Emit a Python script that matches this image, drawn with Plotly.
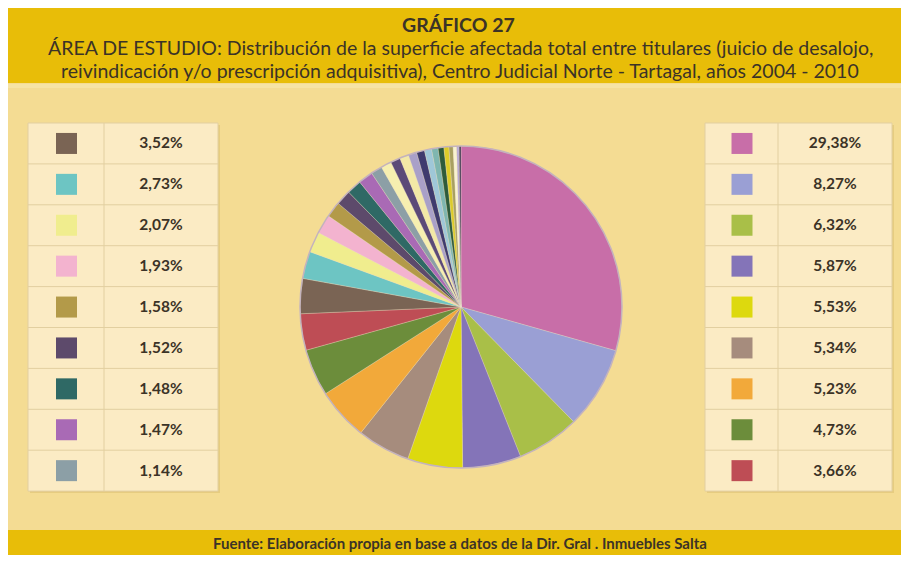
import plotly.graph_objects as go

# porcentajes de cada titular (orden horario desde las 12)
valores = [29.38, 8.27, 6.32, 5.87, 5.53, 5.34, 5.23, 4.73, 3.66,
           3.52, 2.73, 2.07, 1.93, 1.58, 1.52, 1.48, 1.47, 1.14,
           1.05, 0.98, 0.90, 0.85, 0.80, 0.72, 0.65, 0.58, 0.50,
           0.42, 0.35, 0.25, 0.18]
colores = ["#C86EA8", "#9A9FD4", "#A9BF48", "#8474B8", "#DDD90E", "#A68C7D",
           "#F2A93A", "#6C8D3B", "#BE4D55", "#7A6454", "#6DC5C3", "#F0ED8E",
           "#F3B3CF", "#B39A49", "#5D4A6B", "#2F6965", "#A96AB5", "#8C9FA6",
           "#F6EFB0", "#5B4A78", "#F3E9A6", "#A9A0C8", "#3F3B6E", "#9FC7D8",
           "#7FB6B0", "#2E5B3B", "#DCCB2A", "#A8A060", "#F8F3D0", "#B7A9D4",
           "#3E3550"]
tabla_der = valores[0:9]
tabla_izq = valores[9:18]

titulo = "<b>GRÁFICO 27</b>"
subtitulo = ["ÁREA DE ESTUDIO: Distribución de la superficie afectada total entre titulares (juicio de desalojo,",
             "reivindicación y/o prescripción adquisitiva), Centro Judicial Norte - Tartagal, años 2004 - 2010"]
fuente = "Fuente: Elaboración propia en base a datos de la Dir. Gral . Inmuebles Salta"

W, H, OFF = 893, 547, 8
AMARILLO = "#E8BD08"
FONDO = "#F4DC93"
CELDA = "#FBEBC4"
LINEA = "#E2CFA0"
TEXTO = "#3B3327"
FUENTE = "Lato"


def pct(v):
    return f"{v:.2f}".replace(".", ",") + "%"


fig = go.Figure()

# torta
cx, cy, r = 461, 307, 161
fig.add_trace(go.Pie(
    values=valores, marker=dict(colors=colores, line=dict(color="rgba(235,225,205,0.5)", width=0.6)),
    sort=False, direction="clockwise", rotation=0, textinfo="none", hoverinfo="percent",
    showlegend=False,
    domain=dict(x=[(cx - r - OFF) / W, (cx + r - OFF) / W],
                y=[1 - (cy + r - OFF) / H, 1 - (cy - r - OFF) / H]),
))

shapes = []
# bandas
shapes.append(dict(type="rect", x0=OFF, x1=OFF + W, y0=OFF, y1=OFF + H, fillcolor=FONDO, line_width=0, layer="below"))
shapes.append(dict(type="rect", x0=OFF, x1=OFF + W, y0=OFF, y1=83, fillcolor=AMARILLO, line_width=0, layer="below"))
shapes.append(dict(type="rect", x0=OFF, x1=OFF + W, y0=84, y1=88, fillcolor="#F6E3A4", line_width=0, layer="below"))
shapes.append(dict(type="rect", x0=OFF, x1=OFF + W, y0=530, y1=OFF + H, fillcolor=AMARILLO, line_width=0, layer="below"))

# contorno de la torta
shapes.append(dict(type="circle", x0=cx - r, x1=cx + r, y0=cy - r, y1=cy + r,
                   line=dict(color="#C4B3BC", width=1.5)))

# tablas
top, alto = 123, 40.9
tablas = [(28, 104, 218, tabla_izq, colores[9:18]),
          (705, 778, 892, tabla_der, colores[0:9])]
sx, sy, sc, tx, ty, tt = [], [], [], [], [], []
for x0, xm, x1, vals, cols in tablas:
    y1 = top + alto * len(vals)
    shapes.append(dict(type="rect", x0=x0 + 2, x1=x1 + 2, y0=top + 2, y1=y1 + 2,
                       fillcolor="#E6CC80", line_width=0, layer="below"))
    shapes.append(dict(type="rect", x0=x0, x1=x1, y0=top, y1=y1,
                       fillcolor=CELDA, line=dict(color=LINEA, width=1), layer="below"))
    shapes.append(dict(type="line", x0=xm, x1=xm, y0=top, y1=y1, line=dict(color=LINEA, width=1), layer="below"))
    for i, (v, c) in enumerate(zip(vals, cols)):
        yc = top + alto * (i + 0.5)
        if i > 0:
            shapes.append(dict(type="line", x0=x0, x1=x1, y0=top + alto * i, y1=top + alto * i,
                               line=dict(color=LINEA, width=1), layer="below"))
        sx.append((x0 + xm) / 2 + 0.5)
        sy.append(yc)
        sc.append(c)
        tx.append((xm + x1) / 2)
        ty.append(yc + 1)
        tt.append(pct(v))

fig.add_trace(go.Scatter(x=sx, y=sy, mode="markers", showlegend=False, hoverinfo="skip",
                         marker=dict(symbol="square", size=21, color=sc, line=dict(width=0))))
fig.add_trace(go.Scatter(x=tx, y=ty, mode="text", text=tt, showlegend=False, hoverinfo="skip",
                         textfont=dict(family=FUENTE, size=15.5, color=TEXTO, weight="bold")))

anns = [
    dict(x=458, y=24, text=titulo, font=dict(size=19.5)),
    dict(x=460, y=47, text=subtitulo[0], font=dict(size=19.5)),
    dict(x=460, y=70, text=subtitulo[1], font=dict(size=19.5)),
    dict(x=460, y=543, text="<b>" + fuente + "</b>", font=dict(size=15)),
]
for a in anns:
    a.update(xref="x", yref="y", showarrow=False, xanchor="center", yanchor="middle")
    a["font"].update(family=FUENTE, color=TEXTO)

fig.update_layout(
    width=W, height=H, margin=dict(l=0, r=0, t=0, b=0),
    paper_bgcolor="white", plot_bgcolor="rgba(0,0,0,0)",
    xaxis=dict(range=[OFF, OFF + W], visible=False, fixedrange=True),
    yaxis=dict(range=[OFF + H, OFF], visible=False, fixedrange=True),
    shapes=shapes, annotations=anns,
)

fig.write_html("out.html")
